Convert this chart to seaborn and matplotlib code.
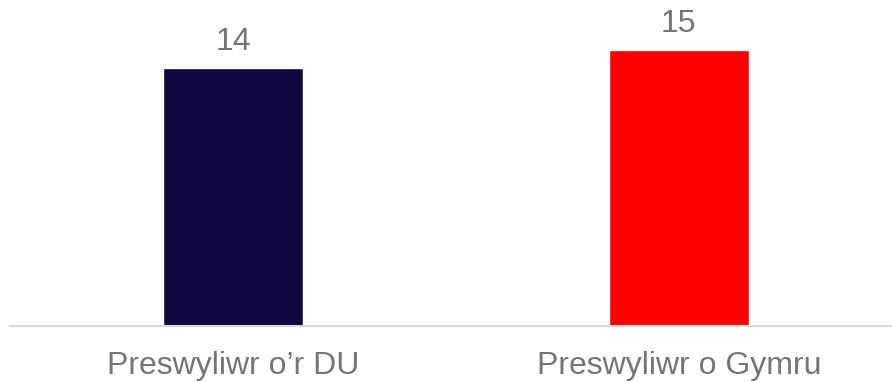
import matplotlib
matplotlib.use("Agg")
import matplotlib.pyplot as plt
import seaborn as sns
import pandas as pd

categories = ["Preswyliwr o’r DU", "Preswyliwr o Gymru"]
values = [14, 15]
colors = ["#120640", "#FF0000"]

sns.set_theme(style="white")
plt.rcParams['font.family'] = ['Liberation Sans', 'DejaVu Sans']

df = pd.DataFrame({"cat": categories, "val": values})

fig = plt.figure(figsize=(8.92, 3.82), dpi=100)
ax = fig.add_axes([10/892, 56/382, 882/892, 326/382])
sns.barplot(data=df, x="cat", y="val", hue="cat", palette=colors, legend=False,
            width=0.314, ax=ax, saturation=1)
ax.set_xlim(-0.5, 1.478)
ax.set_ylim(0, 326/18.4)
ax.set_xlabel("")
ax.set_ylabel("")
ax.set_yticks([])
for s in ["top", "right", "left"]:
    ax.spines[s].set_visible(False)
ax.spines["bottom"].set_color("#d9d9d9")
ax.spines["bottom"].set_linewidth(1.5)
ax.tick_params(axis="x", length=0, pad=18, labelsize=23, labelcolor="#757575")
for i, v in enumerate(values):
    ax.annotate(str(v), (i, v), xytext=(0, 8), textcoords="offset points",
                ha="center", va="bottom", fontsize=23, color="#757575")
fig.savefig("out.png", dpi=100)
